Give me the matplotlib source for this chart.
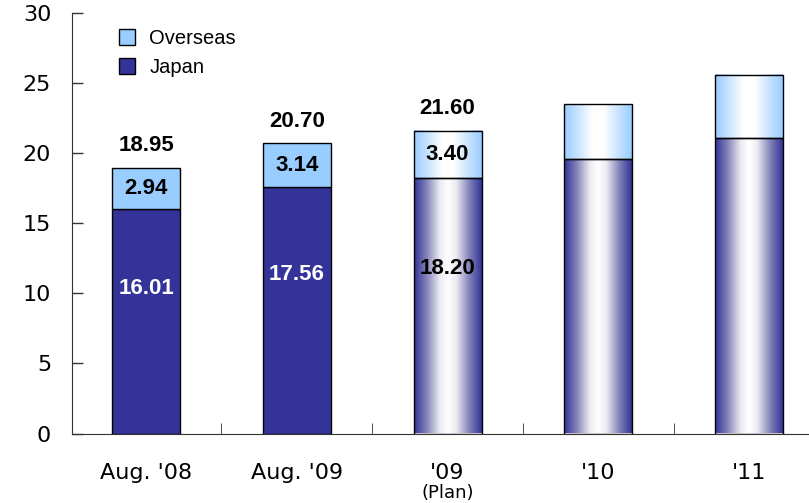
import numpy as np
import matplotlib
matplotlib.use("Agg")
import matplotlib.pyplot as plt
from matplotlib.colors import LinearSegmentedColormap
from matplotlib.patches import Patch
from matplotlib import transforms

plt.rcParams['font.family'] = ['Liberation Sans', 'DejaVu Sans']

categories = ["Aug. '08", "Aug. '09", "'09", "'10", "'11"]
japan = [16.01, 17.56, 18.20, 19.6, 21.1]
overseas = [2.94, 3.14, 3.40, 3.9, 4.5]
totals = [18.95, 20.70, 21.60]
japan_labels = ["16.01", "17.56", "18.20"]
overseas_labels = ["2.94", "3.14", "3.40"]
total_labels = ["18.95", "20.70", "21.60"]
yticks = [0, 5, 10, 15, 20, 25, 30]

JAPAN = '#333399'
OVERSEAS = '#99CCFF'

fig = plt.figure(figsize=(8.09, 5.03), dpi=100)
ax = fig.add_axes([72/809, 1-433.5/503, (808-72)/809, (433.5-13)/503])

x = np.arange(len(categories))
w = 0.45
bj = ax.bar(x, japan, width=w, color=JAPAN, edgecolor='black', linewidth=1, zorder=2)
bo = ax.bar(x, overseas, width=w, bottom=japan, color=OVERSEAS, edgecolor='black', linewidth=1, zorder=2)

cm_j = LinearSegmentedColormap.from_list('j', [(0, '#333399'), (0.18, '#8080b8'), (0.38, '#ececf3'), (0.5, '#ffffff'), (0.62, '#ececf3'), (0.82, '#8080b8'), (1, '#333399')])
cm_o = LinearSegmentedColormap.from_list('o', [(0, '#99CCFF'), (0.2, '#c8e3ff'), (0.42, '#ffffff'), (0.58, '#ffffff'), (0.8, '#c8e3ff'), (1, '#99CCFF')])
grad = np.linspace(0, 1, 256).reshape(1, -1)
for i in range(2, len(categories)):
    for patch, cmap in ((bj[i], cm_j), (bo[i], cm_o)):
        x0, y0 = patch.get_x(), patch.get_y()
        x1, y1 = x0 + patch.get_width(), y0 + patch.get_height()
        patch.set_facecolor('none')
        patch.set_zorder(3)
        ax.imshow(grad, cmap=cmap, extent=[x0, x1, y0, y1], aspect='auto', zorder=2, interpolation='bilinear')

ax.set_xlim(-0.491, 4.39)
ax.set_ylim(0, 30)
ax.set_yticks(yticks)
ax.set_yticklabels([str(t) for t in yticks], family='DejaVu Sans')
ax.tick_params(axis='y', direction='in', length=8, labelsize=16, pad=15, width=1, color='#333333')
ax.set_xticks(x)
ax.set_xticklabels(categories, fontsize=16, family='DejaVu Sans')
ax.tick_params(axis='x', which='major', length=0, pad=21)
ax.set_xticks(x[:-1] + 0.5, minor=True)
ax.tick_params(axis='x', which='minor', direction='in', length=8, color='#333333')
for s in ['top', 'right']:
    ax.spines[s].set_visible(False)
for s in ['left', 'bottom']:
    ax.spines[s].set_color('#333333')

trans = transforms.blended_transform_factory(ax.transData, ax.transAxes)
ax.text(2, -0.142, '(Plan)', transform=trans, ha='center', va='center', fontsize=13,
        family='DejaVu Sans')

for i in range(3):
    ax.annotate(total_labels[i], (x[i], totals[i]), xytext=(0, 16), textcoords='offset points',
                ha='center', va='center', fontsize=16, fontweight='bold')
    ax.text(x[i], japan[i] + overseas[i] / 2, overseas_labels[i], ha='center', va='center',
            fontsize=16, fontweight='bold', zorder=5)
    ax.text(x[i], japan[i] * 0.645, japan_labels[i], ha='center', va='center', fontsize=16,
            fontweight='bold', color='white' if i < 2 else 'black', zorder=5)

handles = [Patch(facecolor=OVERSEAS, edgecolor='black', label='Overseas'),
           Patch(facecolor=JAPAN, edgecolor='black', label='Japan')]
ax.legend(handles=handles, loc='upper left', bbox_to_anchor=(0.064, 0.962), frameon=False,
          fontsize=14.5, handlelength=0.8, handleheight=0.8, labelspacing=0.5,
          handletextpad=0.7, borderpad=0, borderaxespad=0)

fig.text(0.02, 1.018, '(Trillions of yen)', fontsize=13, color='#555555', va='center')

fig.savefig('out.png', dpi=100)
